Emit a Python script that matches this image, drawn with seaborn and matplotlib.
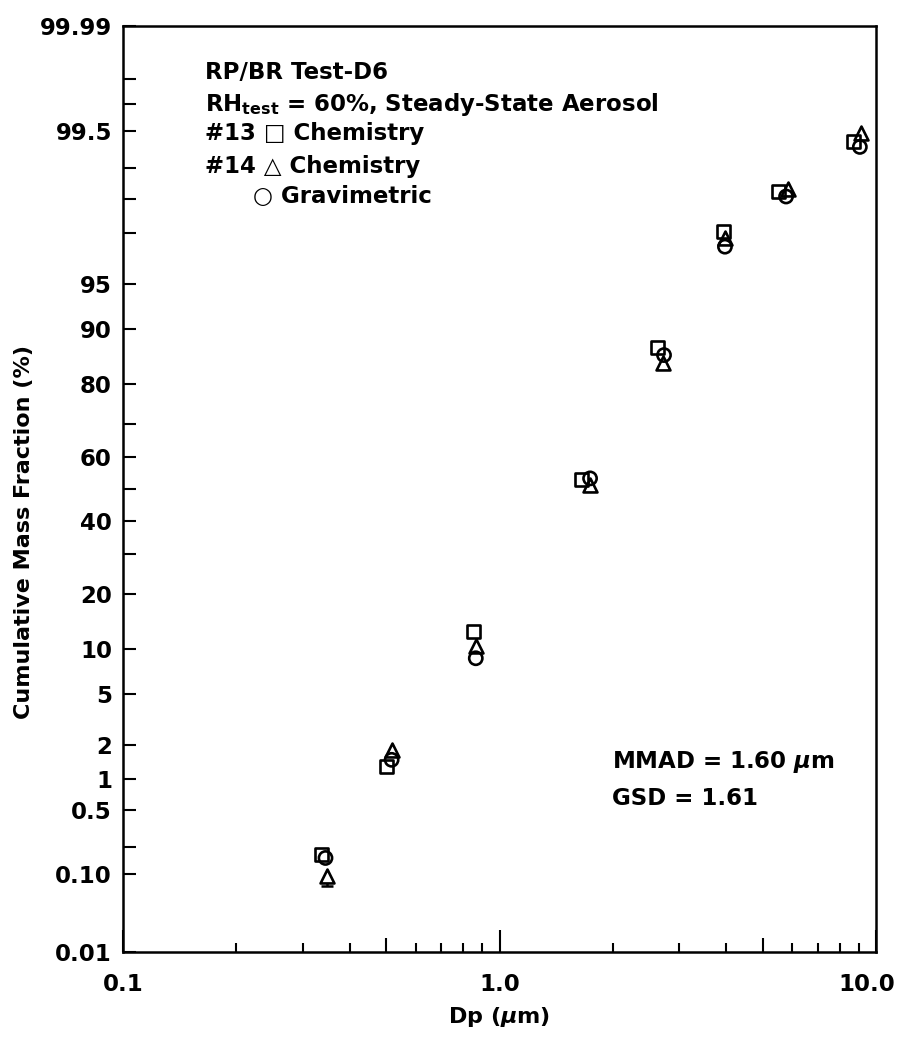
import numpy as np
import pandas as pd
import matplotlib
matplotlib.use("Agg")
import matplotlib.pyplot as plt
import matplotlib.transforms as mtransforms
import seaborn as sns
from matplotlib.ticker import FixedLocator, FixedFormatter, NullFormatter
from statistics import NormalDist

# Cumulative mass fraction (%) versus particle diameter Dp (um)
dp_chem13 = [0.336, 0.502, 0.852, 1.653, 2.625, 3.93, 5.50, 8.70]
cum_chem13 = [0.168, 1.29, 12.6, 53.1, 87.2, 98.06, 99.15, 99.74]

dp_chem14 = [0.348, 0.517, 0.865, 1.740, 2.72, 3.97, 5.83, 9.11]
cum_chem14 = [0.094, 1.80, 10.3, 51.3, 84.4, 97.80, 99.21, 99.79]

dp_grav = [0.345, 0.517, 0.865, 1.740, 2.735, 3.97, 5.77, 9.06]
cum_grav = [0.152, 1.48, 8.7, 53.4, 85.9, 97.42, 99.06, 99.70]

# lower uncertainty on the smallest #14 stage (%)
chem14_err_low = [0.022]

# axis ticks
xtick_vals = [0.1, 1.0, 10.0]
xtick_labels = ["0.1", "1.0", "10.0"]
xminor_vals = [0.2, 0.3, 0.4, 0.5, 0.6, 0.7, 0.8, 0.9,
               2, 3, 4, 5, 6, 7, 8, 9]
xminor_long = [0.5, 5]

ytick_vals = [0.01, 0.1, 0.5, 1, 2, 5, 10, 20, 40, 60, 80, 90, 95, 99.8, 99.99]
ytick_labels = ["0.01", "0.10", "0.5", "1", "2", "5", "10", "20", "40",
                "60", "80", "90", "95", "99.5", "99.99"]
yminor_vals = [0.2, 30, 50, 70, 98, 99, 99.5, 99.9, 99.95]

sns.set_theme(style="white")
plt.rcParams["font.family"] = ["DejaVu Sans"]
plt.rcParams["font.weight"] = "bold"
plt.rcParams["mathtext.fontset"] = "dejavusans"
for key in ["text.color", "axes.labelcolor", "xtick.color", "ytick.color",
            "axes.edgecolor"]:
    plt.rcParams[key] = "black"

# normal-probability scale for the percentage axis
_nd = NormalDist()
_ppf = np.vectorize(
    lambda p: _nd.inv_cdf(min(max(p / 100.0, 1e-12), 1.0 - 1e-12)),
    otypes=[float])
_cdf = np.vectorize(lambda z: 100.0 * _nd.cdf(z), otypes=[float])


def prob_forward(p):
    return _ppf(np.asarray(p, dtype=float))


def prob_inverse(z):
    return _cdf(np.asarray(z, dtype=float))


fig = plt.figure(figsize=(8.99, 10.38), dpi=100)
ax = fig.add_axes([123 / 899, 86 / 1038, 753 / 899, 926 / 1038])
ax.set_xscale("log")
ax.set_yscale("function", functions=(prob_forward, prob_inverse))

df13 = pd.DataFrame({"Dp": dp_chem13, "cum": cum_chem13})
df14 = pd.DataFrame({"Dp": dp_chem14, "cum": cum_chem14})
dfg = pd.DataFrame({"Dp": dp_grav, "cum": cum_grav})

# error bar below the smallest #14 point (lower side only)
eb = ax.errorbar(dp_chem14[0], cum_chem14[0],
                 yerr=[chem14_err_low, [0.0]], fmt="none",
                 ecolor="black", elinewidth=1.8, capsize=4.5, capthick=1.8,
                 zorder=1.5)
for cap in eb[1]:
    if np.allclose(cap.get_ydata(), cum_chem14[0]):
        cap.set_visible(False)

sns.scatterplot(data=df14, x="Dp", y="cum", marker="^", s=100,
                color="white", edgecolor="black", linewidth=1.9,
                zorder=2, ax=ax, legend=False)
sns.scatterplot(data=df13, x="Dp", y="cum", marker="s", s=85,
                color="none", edgecolor="black", linewidth=1.9,
                zorder=3, ax=ax, legend=False)
sns.scatterplot(data=dfg, x="Dp", y="cum", marker="o", s=90,
                color="none", edgecolor="black", linewidth=1.9,
                zorder=3, ax=ax, legend=False)
for coll in ax.collections[-2:]:
    coll.set_facecolor("none")
    coll.set_edgecolor("black")

ax.set_xlim(0.1, 10.0)
ax.set_ylim(0.01, 99.99)

# ticks
ax.tick_params(axis="both", which="both", direction="in", color="black",
               labelcolor="black", width=1.5, bottom=True, left=True,
               top=False, right=False)
ax.xaxis.set_major_locator(FixedLocator(xtick_vals))
ax.xaxis.set_major_formatter(FixedFormatter(xtick_labels))
ax.xaxis.set_minor_locator(FixedLocator(xminor_vals))
ax.xaxis.set_minor_formatter(NullFormatter())
ax.tick_params(axis="x", which="major", length=16, pad=15, labelsize=16.5)
ax.tick_params(axis="x", which="minor", length=6.5)

ax.yaxis.set_major_locator(FixedLocator(ytick_vals))
ax.yaxis.set_major_formatter(FixedFormatter(ytick_labels))
ax.yaxis.set_minor_locator(FixedLocator(yminor_vals))
ax.yaxis.set_minor_formatter(NullFormatter())
ax.tick_params(axis="y", which="both", length=9.5, pad=8, labelsize=16.5)

# medium-length ticks at 0.5 and 5
minor_locs = list(xminor_vals)
for loc, tick in zip(minor_locs, ax.xaxis.get_minor_ticks(len(minor_locs))):
    if loc in xminor_long:
        tick.tick1line.set_markersize(10)

for side in ["left", "right", "top", "bottom"]:
    ax.spines[side].set_visible(True)
    ax.spines[side].set_color("black")
    ax.spines[side].set_linewidth(1.8)
ax.grid(False)

ax.set_xlabel(r"Dp ($\mu$m)", fontsize=16, fontweight="bold")
ax.set_ylabel("Cumulative Mass Fraction (%)", fontsize=16, fontweight="bold")
ax.xaxis.set_label_coords(0.5, -0.057)
ax.yaxis.set_label_coords(-0.118, 0.4536)

# test description block
tx = 0.109
ax.text(tx, 0.9493, "RP/BR Test-D6", transform=ax.transAxes,
        fontsize=16.5, fontweight="bold", va="center", ha="left")
ax.text(tx, 0.9150, r"RH$_{\mathbf{test}}$ = 60%, Steady-State Aerosol",
        transform=ax.transAxes, fontsize=16.5, fontweight="bold",
        va="center", ha="left")
ax.text(tx, 0.8834, "#13 \u25a1 Chemistry", transform=ax.transAxes,
        fontsize=16.5, fontweight="bold", va="center", ha="left")
ax.text(tx, 0.8488, "#14 \u25b3 Chemistry", transform=ax.transAxes,
        fontsize=16.5, fontweight="bold", va="center", ha="left")
ax.text(tx + 0.064, 0.8164, "\u25cb Gravimetric", transform=ax.transAxes,
        fontsize=16.5, fontweight="bold", va="center", ha="left")

# fitted distribution parameters
ax.text(0.649, 0.205, r"MMAD = 1.60 $\mu$m", transform=ax.transAxes,
        fontsize=16.5, fontweight="bold", va="center", ha="left")
ax.text(0.649, 0.166, "GSD = 1.61", transform=ax.transAxes,
        fontsize=16.5, fontweight="bold", va="center", ha="left")

# nudge the last x tick label inward so it stays on the canvas
fig.canvas.draw()
last_label = ax.xaxis.get_major_ticks()[-1].label1
last_label.set_transform(
    last_label.get_transform()
    + mtransforms.ScaledTranslation(-0.09, 0, fig.dpi_scale_trans))

fig.savefig("out.png", dpi=100, facecolor="white")
